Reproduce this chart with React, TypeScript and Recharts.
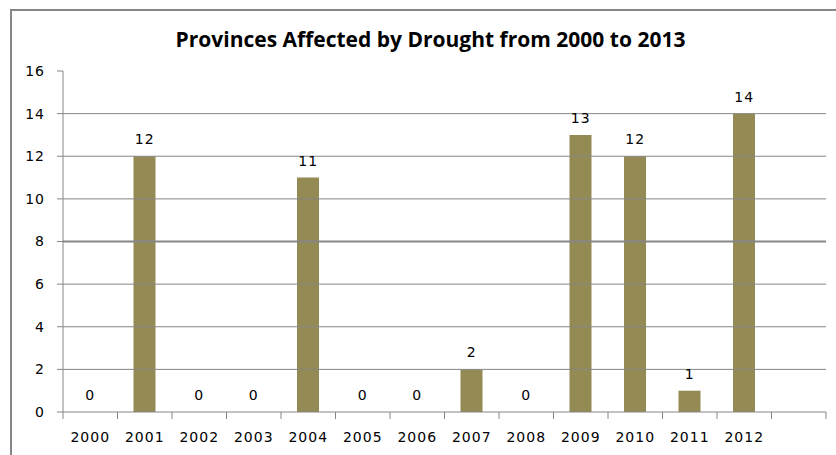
import React from 'react';
import {
  ComposedChart,
  Bar,
  Line,
  XAxis,
  YAxis,
  ReferenceLine,
  LabelList
} from 'recharts';

// years on the category axis (last slot is empty, as in the source sheet)
const years = ['2000', '2001', '2002', '2003', '2004', '2005', '2006', '2007', '2008', '2009', '2010', '2011', '2012', ''];
const provinces: (number | null)[] = [0, 12, 0, 0, 11, 0, 0, 2, 0, 13, 12, 1, 14, null];
const yTicks = [0, 2, 4, 6, 8, 10, 12, 14, 16];
const gridValues = [2, 4, 6, 8, 10, 12, 14];

const chartData = years.map((year, i) => ({ year, value: provinces[i] }));

const AXIS_COLOR = '#868686';
const BAR_COLOR = '#948A54';
const FONT = '"DejaVu Sans", Verdana, sans-serif';

const XTick = (props: any) => {
  const { x, y, payload, index, visibleTicksCount } = props;
  const half = payload.offset || 27.25;
  const isLast = index === (visibleTicksCount ?? years.length) - 1;
  return (
    <g>
      <line x1={x - half} x2={x - half} y1={y - 7} y2={y} stroke={AXIS_COLOR} strokeWidth={1} />
      {isLast && <line x1={x + half} x2={x + half} y1={y - 7} y2={y} stroke={AXIS_COLOR} strokeWidth={1} />}
      <text
        x={x}
        y={y + 23}
        textAnchor="middle"
        fontSize={14}
        fontFamily={FONT}
        letterSpacing={1}
        fill="#000"
      >
        {payload.value}
      </text>
    </g>
  );
};

// labels hang off an invisible line so that zero values still get one
const ValueLabel = (props: any) => {
  const { x, y, value } = props;
  if (value === null || value === undefined) return null;
  return (
    <text
      x={x}
      y={y - 12}
      textAnchor="middle"
      fontSize={14}
      fontFamily={FONT}
      letterSpacing={1}
      fill="#000"
    >
      {value}
    </text>
  );
};

export default function App() {
  return (
    <div style={{ position: 'absolute', left: 0, top: 0, width: 836, height: 455, overflow: 'hidden', background: '#fff' }}>
      <div
        style={{
          position: 'absolute',
          left: 10,
          top: 9,
          width: 840,
          height: 460,
          borderLeft: `2px solid ${AXIS_COLOR}`,
          borderTop: `2px solid ${AXIS_COLOR}`,
          boxSizing: 'border-box'
        }}
      />
      <div
        style={{
          position: 'absolute',
          left: 0,
          top: 24,
          width: 861,
          textAlign: 'center',
          fontFamily: '"Open Sans", sans-serif',
          fontWeight: 700,
          fontSize: 21,
          lineHeight: '30px',
          color: '#000'
        }}
      >
        Provinces Affected by Drought from 2000 to 2013
      </div>
      <div style={{ position: 'absolute', left: 0, top: 0 }}>
        <ComposedChart
          width={836}
          height={455}
          data={chartData}
          margin={{ top: 71, right: 10, left: 0, bottom: 13 }}
        >
          {gridValues.map(v => (
            <ReferenceLine
              key={v}
              y={v}
              stroke={AXIS_COLOR}
              strokeWidth={v === 8 ? 2 : 1}
              ifOverflow="visible"
            />
          ))}
          <XAxis
            dataKey="year"
            height={30}
            interval={0}
            tickSize={7}
            tickMargin={0}
            tickLine={false}
            axisLine={{ stroke: AXIS_COLOR }}
            tick={<XTick />}
          />
          <YAxis
            width={63}
            domain={[0, 16]}
            ticks={yTicks}
            interval={0}
            tickSize={6}
            tickMargin={12}
            axisLine={{ stroke: AXIS_COLOR }}
            tickLine={{ stroke: AXIS_COLOR }}
            tick={{ fontSize: 14, fontFamily: FONT, fill: '#000', letterSpacing: 1 }}
          />
          <Bar dataKey="value" fill={BAR_COLOR} barSize={22} isAnimationActive={false} />
          <Line
            dataKey="value"
            stroke="none"
            dot={false}
            activeDot={false}
            connectNulls={false}
            isAnimationActive={false}
          >
            <LabelList dataKey="value" content={<ValueLabel />} />
          </Line>
        </ComposedChart>
      </div>
    </div>
  );
}
